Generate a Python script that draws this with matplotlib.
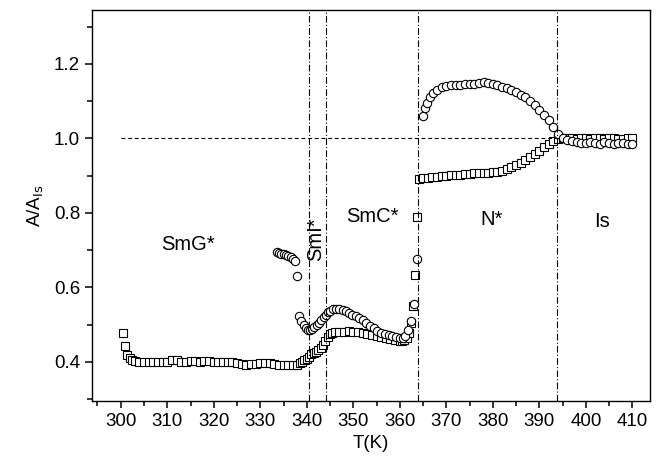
import matplotlib
matplotlib.use('Agg')
import matplotlib.pyplot as plt
from matplotlib.ticker import MultipleLocator

plt.rcParams['font.family'] = ['Liberation Sans', 'DejaVu Sans']

# squares
T_sq = [300.4, 300.9, 301.4, 301.9, 302.4, 303, 304, 305, 306, 307, 308, 309, 310, 311, 312,
        313, 314, 315, 316, 317, 318, 319, 320, 321, 322, 323, 324, 325, 326, 327, 328, 329,
        330, 331, 332, 333, 334, 335, 336, 337, 338, 338.5, 339, 339.5, 340, 340.5, 341,
        341.5, 342, 342.5, 343, 343.5, 344, 344.5, 345, 345.5, 346, 347, 348, 349, 350, 351,
        352, 353, 354, 355, 356, 357, 358, 359, 360, 360.5, 361, 361.5, 362, 362.5, 362.9,
        363.3, 363.8, 364.1, 365, 366, 367, 368, 369, 370, 371, 372, 373, 374, 375, 376, 377,
        378, 379, 380, 381, 382, 383, 384, 385, 386, 387, 388, 389, 390, 391, 392, 393, 394,
        395, 396, 397, 398, 399, 400, 401, 402, 403, 404, 405, 406, 407, 408, 409, 410]
A_sq = [0.478, 0.443, 0.418, 0.410, 0.405, 0.403, 0.401, 0.400, 0.400, 0.399, 0.399, 0.400,
        0.401, 0.405, 0.404, 0.401, 0.400, 0.402, 0.402, 0.401, 0.402, 0.402, 0.401, 0.400,
        0.401, 0.400, 0.400, 0.398, 0.394, 0.393, 0.394, 0.395, 0.396, 0.396, 0.396, 0.394,
        0.393, 0.392, 0.391, 0.392, 0.393, 0.396, 0.400, 0.404, 0.408, 0.414, 0.420, 0.424,
        0.428, 0.432, 0.438, 0.445, 0.455, 0.466, 0.476, 0.479, 0.480, 0.480, 0.481, 0.482,
        0.481, 0.480, 0.478, 0.475, 0.472, 0.470, 0.467, 0.464, 0.461, 0.458, 0.455, 0.455,
        0.458, 0.465, 0.478, 0.505, 0.550, 0.634, 0.790, 0.890, 0.893, 0.895, 0.896, 0.897,
        0.898, 0.900, 0.901, 0.902, 0.903, 0.904, 0.905, 0.906, 0.906, 0.907, 0.908, 0.909,
        0.910, 0.913, 0.917, 0.922, 0.928, 0.935, 0.943, 0.950, 0.958, 0.967, 0.976, 0.985,
        0.993, 0.998, 1.000, 1.000, 1.002, 0.998, 1.000, 1.001, 0.998, 1.000, 1.002, 0.997,
        1.000, 1.001, 0.998, 0.999, 1.000, 1.001]

# circles
T_ci = [333.5, 334, 334.5, 335, 335.5, 336, 336.5, 337, 337.4, 337.9, 338.4, 338.8, 339.3,
        339.8, 340.3, 340.7, 341.2, 341.6, 342.1, 342.6, 343.1, 343.6, 344.1, 344.6, 345.1,
        345.7, 346.3, 347, 347.7, 348.4, 349.1, 349.8, 350.5, 351.2, 352, 352.8, 353.6, 354.4,
        355.2, 356, 356.8, 357.6, 358.4, 359.2, 360, 360.6, 361.2, 361.8, 362.4, 363, 363.8,
        364.9, 365.4, 365.8, 366.5, 367.2, 368, 369, 370, 371, 372, 373, 374, 375, 376, 377,
        378, 379, 380, 381, 382, 383, 384, 385, 386, 387, 388, 389, 390, 391, 392, 393, 394,
        395, 396, 397, 398, 399, 400, 401, 402, 403, 404, 405, 406, 407, 408, 409, 410]
A_ci = [0.695, 0.693, 0.691, 0.689, 0.686, 0.684, 0.681, 0.677, 0.672, 0.630, 0.523, 0.510,
        0.499, 0.492, 0.487, 0.485, 0.488, 0.493, 0.499, 0.505, 0.512, 0.520, 0.527, 0.533,
        0.538, 0.541, 0.542, 0.541, 0.539, 0.536, 0.532, 0.527, 0.522, 0.517, 0.512, 0.505,
        0.496, 0.490, 0.484, 0.479, 0.476, 0.472, 0.469, 0.466, 0.463, 0.464, 0.470, 0.485,
        0.510, 0.555, 0.675, 1.060, 1.082, 1.095, 1.110, 1.122, 1.130, 1.137, 1.140, 1.142,
        1.143, 1.144, 1.145, 1.146, 1.147, 1.149, 1.150, 1.149, 1.146, 1.142, 1.139, 1.136,
        1.130, 1.124, 1.117, 1.110, 1.101, 1.090, 1.077, 1.062, 1.048, 1.030, 1.012, 1.000,
        0.995, 0.992, 0.990, 0.988, 0.987, 0.990, 0.988, 0.986, 0.990, 0.988, 0.986, 0.988,
        0.987, 0.986, 0.985]

transitions = [340.5, 344.2, 363.9, 393.9]
phases = ['SmG*', 'SmI*', 'SmC*', 'N*', 'Is']
phase_x = [314.5, 342.0, 354.0, 379.7, 403.4]
phase_y = [0.714, 0.73, 0.79, 0.781, 0.776]

fig = plt.figure(figsize=(6.66, 4.68), dpi=100)
ax = fig.add_axes([0.138, 0.143, 0.838, 0.836])

ax.plot(T_sq, A_sq, ls='none', marker='s', ms=6, mfc='white', mec='black', mew=0.8)
ax.plot(T_ci, A_ci, ls='none', marker='o', ms=6, mfc='white', mec='black', mew=0.8)

ax.plot([300, transitions[-1]], [1.0, 1.0], color='black', lw=0.8, ls=(0, (3.5, 2.5)))
for t in transitions:
    ax.axvline(t, color='black', lw=0.8, ls=(0, (6, 2, 1, 2)))

for name, x, y in zip(phases, phase_x, phase_y):
    rot = 90 if name == 'SmI*' else 0
    ax.text(x, y, name, fontsize=14.5, ha='center', va='center', rotation=rot)

ax.set_xlim(293.8, 413.8)
ax.set_ylim(0.295, 1.345)
ax.xaxis.set_major_locator(MultipleLocator(10))
ax.xaxis.set_minor_locator(MultipleLocator(5))
ax.yaxis.set_major_locator(MultipleLocator(0.2))
ax.yaxis.set_minor_locator(MultipleLocator(0.1))
ax.tick_params(which='both', direction='out', top=False, right=False, width=1.1, labelsize=13.5)
ax.tick_params(which='major', length=5)
ax.tick_params(which='minor', length=3.5)
ax.set_xlabel('T(K)', fontsize=13.5, labelpad=4)
ax.set_ylabel(r'A/A$_{\mathrm{Is}}$', fontsize=13.5, labelpad=6)
for s in ax.spines.values():
    s.set_linewidth(1.0)

fig.savefig('out.png', dpi=100)
